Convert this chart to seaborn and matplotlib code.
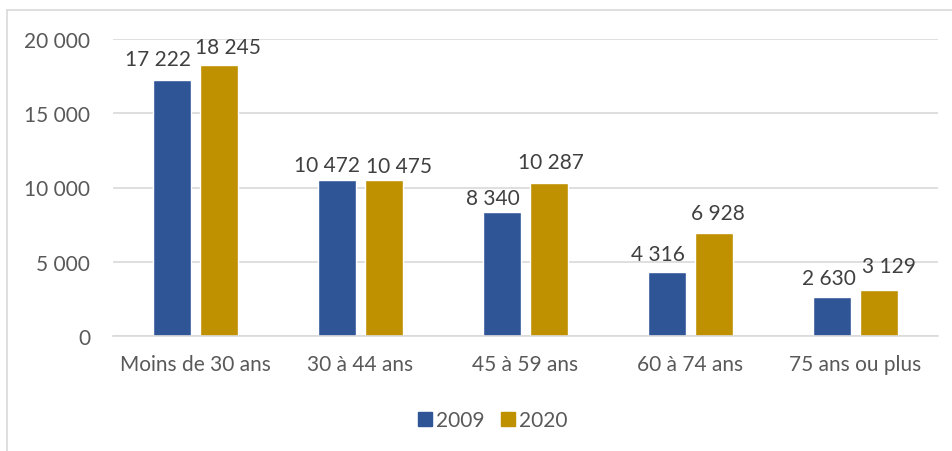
import matplotlib
matplotlib.use("Agg")
import matplotlib.pyplot as plt
import seaborn as sns
import pandas as pd
from matplotlib.lines import Line2D

categories = ["Moins de 30 ans", "30 à 44 ans", "45 à 59 ans", "60 à 74 ans", "75 ans ou plus"]
years = ["2009", "2020"]
values_2009 = [17222, 10472, 8340, 4316, 2630]
values_2020 = [18245, 10475, 10287, 6928, 3129]
y_ticks = [0, 5000, 10000, 15000, 20000]

colors = {"2009": "#2F5597", "2020": "#BF9000"}

# value-label nudges (pixels) so neighbouring labels do not collide
label_dx = {"2009": [-14, -10, -9, -9, -3], "2020": [9, 15, 2, 4, 10]}
label_dy = {"2009": [15, 9, 8, 12, 13], "2020": [12, 8, 15, 14, 18]}

df = pd.DataFrame({
    "Tranche": categories * 2,
    "Année": ["2009"] * len(categories) + ["2020"] * len(categories),
    "Valeur": values_2009 + values_2020,
})

sns.set_theme(style="white")
plt.rcParams["font.family"] = ["Lato", "DejaVu Sans"]

FS = 15
W, H = 952, 452
fig = plt.figure(figsize=(W / 100, H / 100), dpi=100)
ax = fig.add_axes([113 / W, (H - 337) / H, 825 / W, 297 / H])

sns.barplot(data=df, x="Tranche", y="Valeur", hue="Année", hue_order=years,
            palette=colors, width=0.57, gap=0.19, ax=ax, legend=False,
            saturation=1, errorbar=None)

def fmt(v):
    return f"{int(round(v)):,}".replace(",", " ")

for year, cont in zip(years, ax.containers):
    for i, bar in enumerate(cont):
        h = bar.get_height()
        ax.annotate(fmt(h), (bar.get_x() + bar.get_width() / 2, h),
                    xytext=(label_dx[year][i], label_dy[year][i]),
                    textcoords="offset pixels", ha="center", va="baseline",
                    fontsize=FS, color="#404040")

ax.set_ylim(0, 20000)
ax.set_xlim(-0.5, len(categories) - 0.5)
ax.set_yticks(y_ticks)
ax.set_yticklabels([fmt(t) for t in y_ticks])
ax.set_xlabel("")
ax.set_ylabel("")
ax.tick_params(axis="y", length=0, pad=16.5, labelsize=FS, labelcolor="#595959")
ax.tick_params(axis="x", length=0, pad=13, labelsize=FS, labelcolor="#595959")
ax.yaxis.grid(True, color="#D9D9D9", linewidth=1.2)
ax.set_axisbelow(True)
for s in ["top", "right", "left"]:
    ax.spines[s].set_visible(False)
ax.spines["bottom"].set_color("#D9D9D9")
ax.spines["bottom"].set_linewidth(1.2)

handles = [Line2D([0], [0], marker="s", linestyle="none", markersize=10,
                  markerfacecolor=colors[y], markeredgecolor=colors[y]) for y in years]
fig.legend(handles, years, loc="center", bbox_to_anchor=(491 / W, 1 - 421 / H),
           ncol=2, frameon=False, fontsize=FS, labelcolor="#595959",
           handletextpad=0.05, columnspacing=0.6, handlelength=1.0)

# chart area frame
fig.add_artist(Line2D([7 / W, 7 / W], [0, 1 - 11 / H], transform=fig.transFigure,
                      color="#D9D9D9", linewidth=1.2))
fig.add_artist(Line2D([7 / W, 1], [1 - 11 / H, 1 - 11 / H], transform=fig.transFigure,
                      color="#D9D9D9", linewidth=1.2))

fig.savefig("out.png", dpi=100)
